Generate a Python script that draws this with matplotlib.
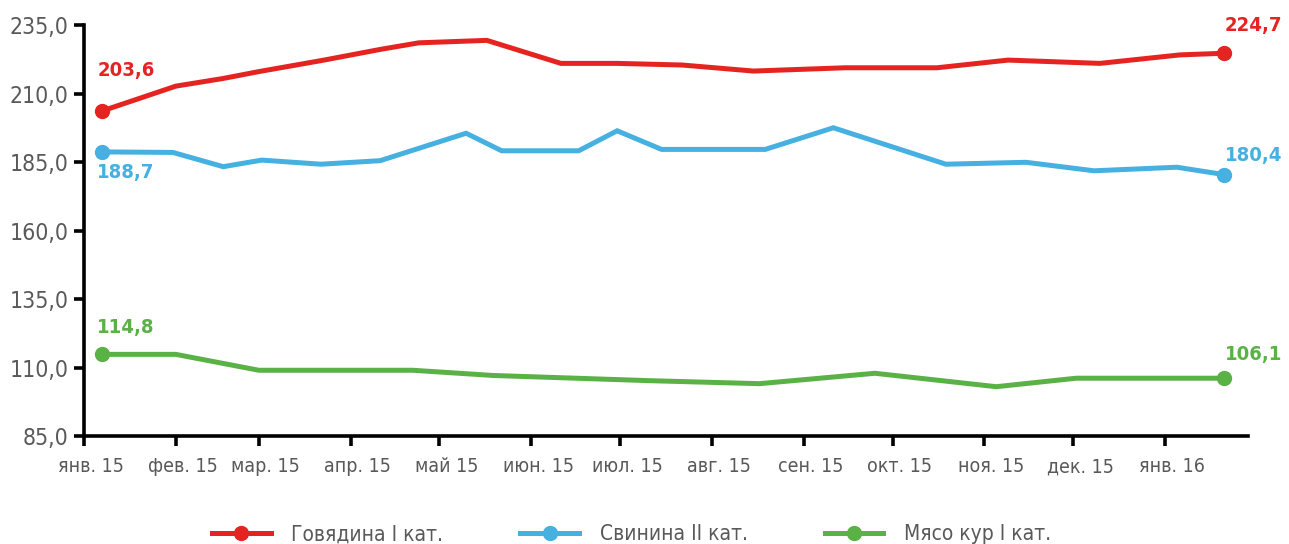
import numpy as np
import pandas as pd
import matplotlib
matplotlib.use("Agg")
import matplotlib.pyplot as plt
from matplotlib import font_manager
from matplotlib.transforms import ScaledTranslation
from matplotlib.ticker import FuncFormatter

# narrow font if we have one
names = {f.name for f in font_manager.fontManager.ttflist}
cond = [f for f in font_manager.fontManager.ttflist
        if f.name == "DejaVu Sans" and f.stretch in ("condensed", "semi-condensed")]
if "Liberation Sans Narrow" in names:
    plt.rcParams['font.family'] = ['Liberation Sans Narrow', 'DejaVu Sans']
elif cond:
    plt.rcParams['font.family'] = ['DejaVu Sans']
    plt.rcParams['font.stretch'] = 'condensed'
else:
    plt.rcParams['font.family'] = ['Liberation Sans', 'DejaVu Sans']

# Говядина I кат.
beef_dates = ["2015-01-07", "2015-02-01", "2015-02-17", "2015-03-01", "2015-03-23",
              "2015-04-11", "2015-04-24", "2015-05-17", "2015-06-11", "2015-06-30",
              "2015-07-22", "2015-08-15", "2015-09-15", "2015-10-16", "2015-11-09",
              "2015-12-10", "2016-01-06", "2016-01-21"]
beef_vals = [203.6, 212.7, 215.5, 218.0, 222.2, 226.1, 228.5, 229.4, 221.0, 221.0,
             220.4, 218.2, 219.4, 219.4, 222.2, 221.0, 224.1, 224.7]

# Свинина II кат.
pork_dates = ["2015-01-07", "2015-01-31", "2015-02-17", "2015-03-02", "2015-03-22",
              "2015-04-11", "2015-05-10", "2015-05-22", "2015-06-17", "2015-06-30",
              "2015-07-15", "2015-08-19", "2015-09-11", "2015-10-19", "2015-11-15",
              "2015-12-08", "2016-01-05", "2016-01-21"]
pork_vals = [188.7, 188.5, 183.3, 185.7, 184.2, 185.5, 195.5, 189.1, 189.1, 196.4,
             189.6, 189.6, 197.5, 184.2, 184.9, 181.8, 183.1, 180.4]

# Мясо кур I кат.
chicken_dates = ["2015-01-07", "2015-02-01", "2015-03-01", "2015-04-22", "2015-05-19",
                 "2015-07-11", "2015-08-17", "2015-09-25", "2015-11-05", "2015-12-02",
                 "2016-01-21"]
chicken_vals = [114.8, 114.8, 109.0, 109.0, 107.1, 105.2, 104.1, 107.9, 103.0, 106.1, 106.1]

series = [
    ("Говядина I кат.", beef_dates, beef_vals, "#e52421", (24, 41), (29, 28)),
    ("Свинина II кат.", pork_dates, pork_vals, "#46b0e1", (24, -21), (29, 19)),
    ("Мясо кур I кат.", chicken_dates, chicken_vals, "#5ab247", (24, 27), (29, 24)),
]

month_labels = ["янв. 15", "фев. 15", "мар. 15", "апр. 15", "май 15", "июн. 15", "июл. 15",
                "авг. 15", "сен. 15", "окт. 15", "ноя. 15", "дек. 15", "янв. 16"]

fig = plt.figure(figsize=(12.89, 5.44), dpi=100)
ax = fig.add_axes([0.0652, 0.1985, 0.903, 0.7555])

for name, d, v, col, off0, off1 in series:
    d = pd.to_datetime(d)
    ax.plot(d, v, color=col, lw=3.6, marker="o", markersize=10, markevery=[0, len(v) - 1],
            solid_joinstyle="miter", label=name)
    for i, off in ((0, off0), (-1, off1)):
        ax.annotate(f"{v[i]:.1f}".replace(".", ","), (d[i], v[i]), xytext=off,
                    textcoords="offset pixels", ha="center", va="center",
                    color=col, fontsize=14.5, fontweight="bold")

ax.set_ylim(85, 235)
ax.set_yticks(np.arange(85, 236, 25))
ax.yaxis.set_major_formatter(FuncFormatter(lambda y, p: f"{y:.1f}".replace(".", ",")))
ax.set_xlim(pd.Timestamp("2015-01-01"), pd.Timestamp("2016-01-29"))
ticks = pd.date_range("2015-01-01", "2016-01-01", freq="MS")
ax.set_xticks(ticks)
ax.set_xticklabels(month_labels)

for s in ["top", "right"]:
    ax.spines[s].set_visible(False)
for s in ["left", "bottom"]:
    ax.spines[s].set_linewidth(2.6)
    ax.spines[s].set_color("black")
ax.tick_params(axis="both", length=7, width=2.6, color="black", labelcolor="#595959")
ax.tick_params(axis="y", labelsize=16.5, pad=4)
ax.tick_params(axis="x", labelsize=14, pad=19)
shift = ScaledTranslation(7 / 100, 0, fig.dpi_scale_trans)
for lab in ax.get_xticklabels():
    lab.set_transform(lab.get_transform() + shift)
    lab.set_verticalalignment("baseline")

leg = fig.legend(loc="center", bbox_to_anchor=(0.49, 0.018), ncol=3, frameon=False,
                 fontsize=15, handlelength=2.8, handletextpad=1.0, columnspacing=3.7,
                 numpoints=1, labelcolor="#595959")
for h in leg.legend_handles:
    h.set_markevery([1])

fig.savefig("out.png", dpi=100)
